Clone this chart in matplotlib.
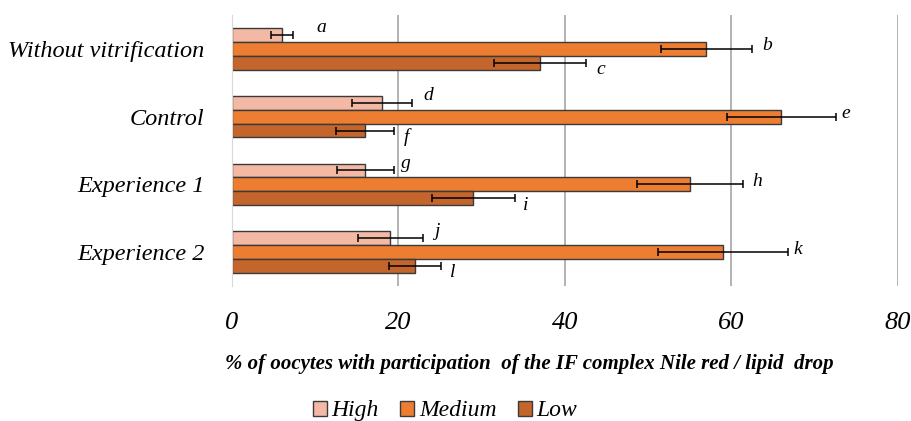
import matplotlib.pyplot as plt
import numpy as np

# data
groups = ["Without vitrification", "Control", "Experience 1", "Experience 2"]
series = ["High", "Medium", "Low"]
high = [6, 18, 16, 19]
medium = [57, 66, 55, 59]
low = [37, 16, 29, 22]
high_err = [1.3, 3.6, 3.4, 3.9]
medium_err = [5.5, 6.5, 6.4, 7.8]
low_err = [5.5, 3.5, 5.0, 3.1]
letters = [["a", "d", "g", "j"], ["b", "e", "h", "k"], ["c", "f", "i", "l"]]
xticks = [0, 20, 40, 60, 80]

colors = ["#f4b9a5", "#ed7d31", "#c4652b"]
# label offsets in pixels (dx, dy) per series row
label_dx = [[24, 12, 7, 11], [10, 6, 9, 5], [11, 9, 8, 9]]
label_dy = [7, 3, -7]

plt.rcParams["font.family"] = ["Liberation Serif", "DejaVu Serif"]

fig = plt.figure(figsize=(9.12, 4.21), dpi=100)
ax = fig.add_axes([0.2544, 0.3207, 0.7302, 0.6437])

y = np.arange(len(groups))
h = 0.205
vals = [high, medium, low]
errs = [high_err, medium_err, low_err]
for k in range(3):
    yy = y + (k - 1) * h
    ax.barh(yy, vals[k], height=h, color=colors[k], edgecolor="#3a3a3a",
            linewidth=1.0, label=series[k], zorder=3)
    ax.errorbar(vals[k], yy, xerr=errs[k], fmt="none", ecolor="black",
                elinewidth=1.1, capsize=3, capthick=1.1, zorder=4)
    for i in range(len(groups)):
        ax.annotate(letters[k][i], xy=(vals[k][i] + errs[k][i], yy[i]),
                    xytext=(label_dx[k][i], label_dy[k]), textcoords="offset pixels",
                    ha="left", va="center", fontsize=14, style="italic")

ax.set_ylim(len(groups) - 0.5, -0.5)
ax.set_xlim(0, 80)
ax.set_xticks(xticks)
ax.set_xticklabels([str(t) for t in xticks], fontsize=19, style="italic")
ax.set_yticks(y)
ax.set_yticklabels(groups, fontsize=17.5, style="italic")
ax.tick_params(axis="x", length=0, pad=19)
ax.tick_params(axis="y", length=0, pad=20)
ax.grid(axis="x", color="#a6a6a6", linewidth=1.2, zorder=0)
for s in ["top", "right", "bottom"]:
    ax.spines[s].set_visible(False)
ax.spines["left"].set_color("#d9d9d9")
ax.spines["left"].set_zorder(5)

ax.set_xlabel("% of oocytes with participation  of the IF complex Nile red / lipid  drop",
              fontsize=15, style="italic", fontweight="bold")
ax.xaxis.set_label_coords(0.447, -0.25)

fig.legend(loc="center", bbox_to_anchor=(0.488, 0.024), ncol=3, frameon=False,
           prop={"size": 17, "style": "italic"}, handlelength=0.6, handleheight=0.6,
           handletextpad=0.2, columnspacing=0.9)

fig.savefig("out.png", dpi=100)
